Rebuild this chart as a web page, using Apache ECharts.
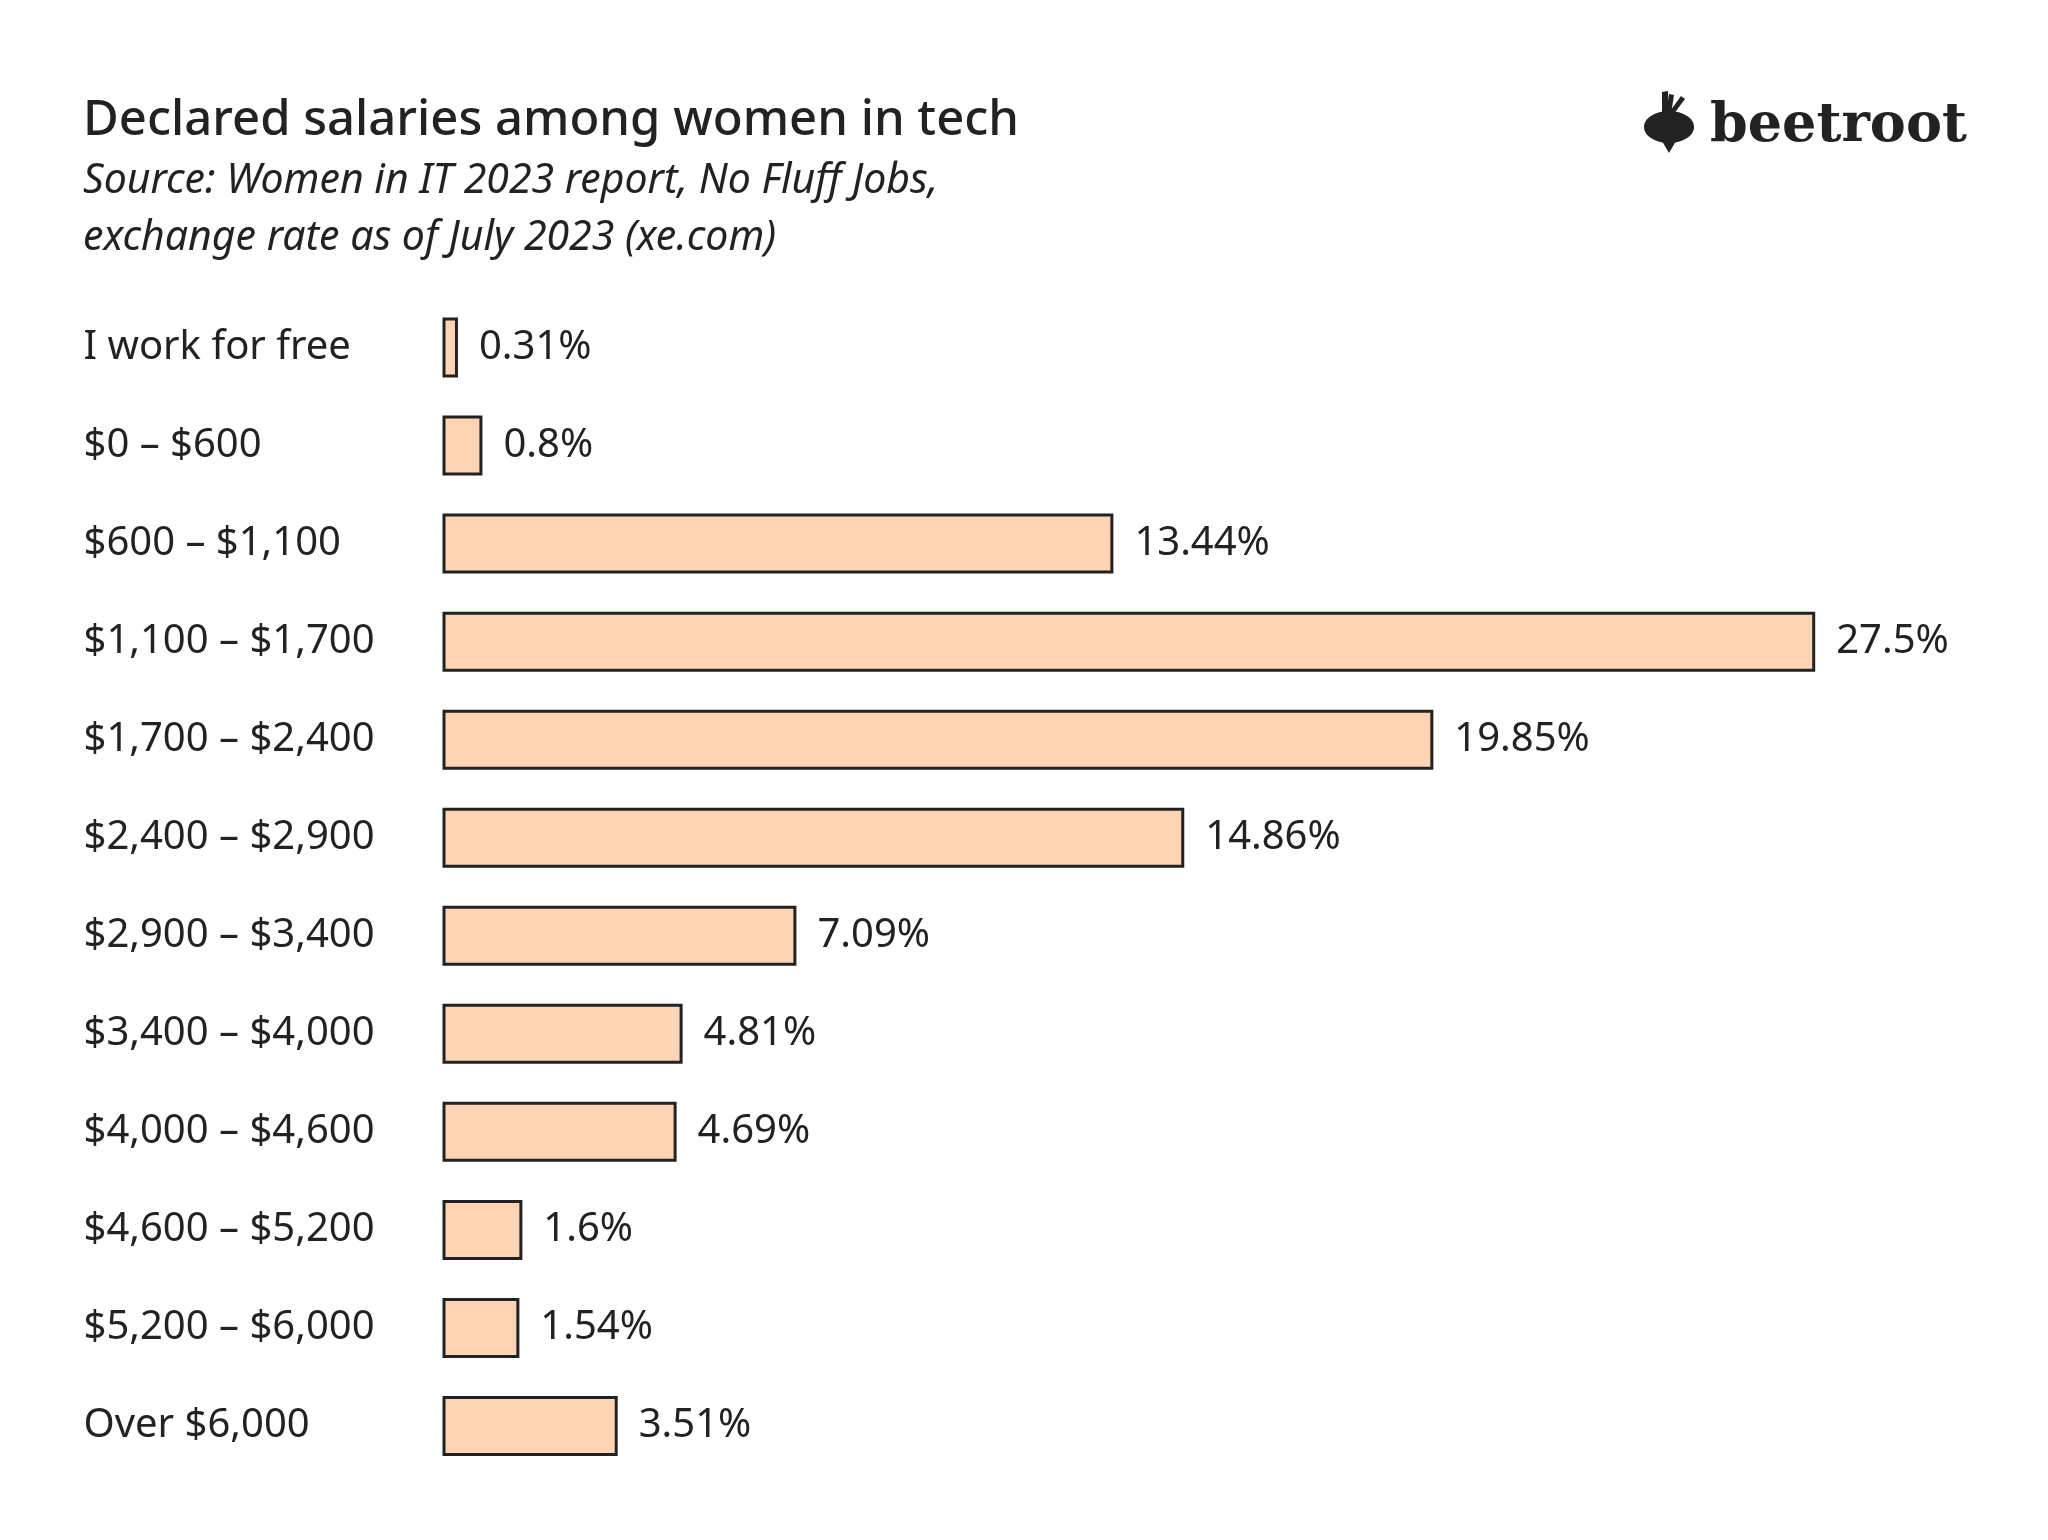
<!DOCTYPE html>
<html>
<head>
<meta charset="utf-8">
<script src="https://cdn.jsdelivr.net/npm/echarts@6/dist/echarts.min.js"></script>
<style>
html,body{margin:0;padding:0;background:#fff;}
#c{width:2048px;height:1540px;}
</style>
</head>
<body>
<div id="c"></div>
<script>
const categories = ["I work for free", "$0 – $600", "$600 – $1,100", "$1,100 – $1,700", "$1,700 – $2,400", "$2,400 – $2,900", "$2,900 – $3,400", "$3,400 – $4,000", "$4,000 – $4,600", "$4,600 – $5,200", "$5,200 – $6,000", "Over $6,000"];
const shares = [0.31, 0.8, 13.44, 27.5, 19.85, 14.86, 7.09, 4.81, 4.69, 1.6, 1.54, 3.51];
const titleText = "Declared salaries among women in tech";
const subtitleLines = ["Source: Women in IT 2023 report, No Fluff Jobs,", "exchange rate as of July 2023 (xe.com)"];
const brand = "beetroot";

const FONT = '"Noto Sans", "Open Sans", sans-serif';
const INK = '#222222';

const chart = echarts.init(document.getElementById('c'), null, {renderer: 'canvas'});
chart.setOption({
  backgroundColor: '#ffffff',
  animation: false,
  grid: {left: 442.5, right: 108, top: 298.5, bottom: 65, containLabel: false},
  xAxis: {
    type: 'value', min: 0, max: 30,
    show: false
  },
  yAxis: {
    type: 'category', data: categories, inverse: true,
    axisLine: {show: false}, axisTick: {show: false}, splitLine: {show: false},
    axisLabel: {
      align: 'left', margin: 359,
      fontFamily: FONT, fontSize: 40, color: INK, padding: [5, 0, 0, 0]
    }
  },
  series: [{
    type: 'bar', data: shares, barWidth: 60,
    itemStyle: {color: '#FFD4B4', borderColor: INK, borderWidth: 3},
    label: {
      show: true, position: 'right', distance: 21,
      formatter: p => p.value + '%',
      fontFamily: FONT, fontSize: 40, color: INK, padding: [5, 0, 0, 0]
    }
  }],
  graphic: [
    {type: 'text', x: 83, y: 121, style: {text: titleText, fontFamily: FONT, fontWeight: 500, fontSize: 49, fill: INK, verticalAlign: 'middle'}},
    {type: 'text', x: 83, y: 181, style: {text: subtitleLines[0], fontFamily: FONT, fontStyle: 'italic', fontSize: 41, fill: INK, verticalAlign: 'middle'}},
    {type: 'text', x: 83, y: 238, style: {text: subtitleLines[1], fontFamily: FONT, fontStyle: 'italic', fontSize: 41, fill: INK, verticalAlign: 'middle'}},
    {type: 'text', x: 1710, y: 127, style: {text: brand, fontFamily: '"DejaVu Serif", serif', fontWeight: 'bold', fontSize: 54, fill: INK, verticalAlign: 'middle'}},
    {type: 'ellipse', shape: {cx: 1669, cy: 127, rx: 25, ry: 16}, style: {fill: INK}},
    {type: 'polygon', shape: {points: [[1662, 141], [1676, 141], [1669, 153]]}, style: {fill: INK}},
    {type: 'polygon', shape: {points: [[1662, 114], [1662, 92], [1668, 91], [1668, 114]]}, style: {fill: INK}},
    {type: 'polygon', shape: {points: [[1666, 114], [1669, 94], [1674, 95], [1671, 114]]}, style: {fill: INK}},
    {type: 'polygon', shape: {points: [[1668, 114], [1681, 96], [1685, 99], [1673, 115]]}, style: {fill: INK}}
  ]
});
</script>
</body>
</html>
